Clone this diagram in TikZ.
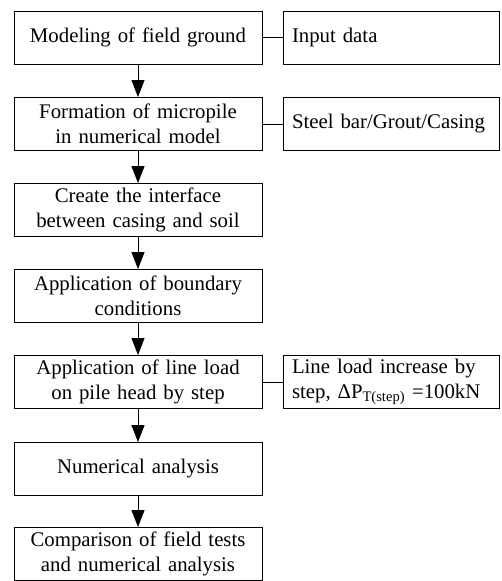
\documentclass[tikz,border=0pt]{standalone}
\usepackage{fontspec}
\setmainfont{Liberation Serif}
\usetikzlibrary{arrows.meta}
\begin{document}
\begin{tikzpicture}[x=1pt,y=-1pt,
  every node/.style={font=\fontsize{20.8}{25}\selectfont},
  mainbox/.style={draw, line width=0.9pt, minimum width=248pt, minimum height=53pt, text width=236pt, align=center, inner sep=0pt},
  sidebox/.style={draw, line width=0.9pt, minimum width=216pt, minimum height=53pt, text width=198pt, align=left, inner sep=0pt},
  flow/.style={line width=0.9pt, -{Triangle[length=17pt,width=13pt]}},
  link/.style={line width=0.9pt}]
\useasboundingbox (0,0) rectangle (501,581);
\node[mainbox] (m1) at (138,37.5) {Modeling of field ground};
\node[mainbox] (m2) at (138,124) {Formation of micropile\\in numerical model};
\node[mainbox] (m3) at (138,210) {Create the interface\\between casing and soil};
\node[mainbox] (m4) at (138,296) {Application of boundary\\conditions};
\node[mainbox] (m5) at (138,382) {Application of line load\\on pile head by step};
\node[mainbox] (m6) at (138,469) {Numerical analysis};
\node[mainbox] (m7) at (138,554) {Comparison of field tests\\and numerical analysis};
\node[sidebox] (s1) at (391,37.5) {Input data};
\node[sidebox] (s2) at (391,124) {Steel bar/Grout/Casing};
\node[sidebox] (s5) at (391,382) {Line load increase by\\step, ΔP\textsubscript{T(step)} =100kN};
\draw[flow] (m1) -- (m2);
\draw[flow] (m2) -- (m3);
\draw[flow] (m3) -- (m4);
\draw[flow] (m4) -- (m5);
\draw[flow] (m5) -- (m6);
\draw[flow] (m6) -- (m7);
\draw[link] (m1) -- (s1);
\draw[link] (m2) -- (s2);
\draw[link] (m5) -- (s5);
\end{tikzpicture}
\end{document}
